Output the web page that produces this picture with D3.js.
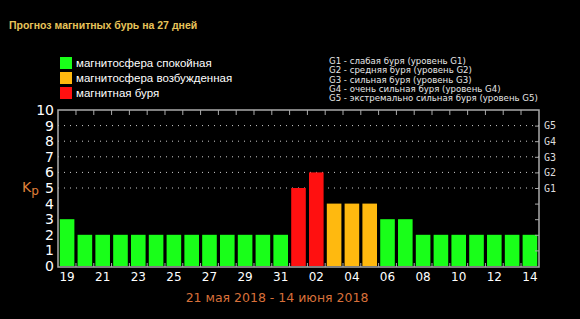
<!DOCTYPE html>
<html>
<head>
<meta charset="utf-8">
<script src="https://cdn.jsdelivr.net/npm/d3@7"></script>
<style>
  body { margin: 0; background: #000; }
  svg { display: block; }
</style>
</head>
<body>
<svg id="chart" width="580" height="319"></svg>
<script>
// Days of the forecast (19 May .. 14 June)
const days = ['19','20','21','22','23','24','25','26','27','28','29','30','31',
              '01','02','03','04','05','06','07','08','09','10','11','12','13','14'];
// Kp forecast per day
const kp = [3,2,2,2,2,2,2,2,2,2,2,2,2, 5,6,4,4,4,3,3,2,2,2,2,2,2,2];
// status per day: q = quiet, a = active, s = storm
const status = ['q','q','q','q','q','q','q','q','q','q','q','q','q',
                's','s','a','a','a','q','q','q','q','q','q','q','q','q'];
const yTicks = [0,1,2,3,4,5,6,7,8,9,10];
const gLevels = ['G1','G2','G3','G4','G5'];
const legendItems = [
  {key: 'q', label: 'магнитосфера спокойная'},
  {key: 'a', label: 'магнитосфера возбужденная'},
  {key: 's', label: 'магнитная буря'}
];
const gLegend = [
  'G1 - слабая буря (уровень G1)',
  'G2 - средняя буря (уровень G2)',
  'G3 - сильная буря (уровень G3)',
  'G4 - очень сильная буря (уровень G4)',
  'G5 - экстремально сильная буря (уровень G5)'
];

const colors = {q: '#19ff19', a: '#ffb90f', s: '#ff1010'};
const frameColor = '#aaaaaa';

const svg = d3.select('#chart');

// plot area
const plotLeft = 58, plotRight = 539, plotTop = 110, plotBottom = 266;

const x = d3.scaleBand().domain(days).range([plotLeft, plotRight]).paddingInner(0.18).paddingOuter(0.1);
const y = d3.scaleLinear().domain([0, 10]).range([plotBottom, plotTop]);

// Title
svg.append('text')
  .attr('x', 9).attr('y', 29)
  .attr('fill', '#e8c45a')
  .style('font-family', 'Liberation Sans, Arial, sans-serif')
  .style('font-weight', 'bold')
  .style('font-size', '10.5px')
  .text('Прогноз магнитных бурь на 27 дней');

// Color legend
const leg = svg.append('g');
legendItems.forEach((d, i) => {
  leg.append('rect')
    .attr('x', 60).attr('y', 57 + i * 15)
    .attr('width', 12).attr('height', 12)
    .attr('fill', colors[d.key]);
  leg.append('text')
    .attr('x', 76).attr('y', 67 + i * 15)
    .attr('fill', '#fff')
    .style('font-family', 'Liberation Sans, Arial, sans-serif')
    .style('font-size', '11.5px')
    .text(d.label);
});

// G legend
gLegend.forEach((t, i) => {
  svg.append('text')
    .attr('x', 329).attr('y', 64 + i * 9.3)
    .attr('fill', '#e6e6e6')
    .style('font-family', 'DejaVu Sans, sans-serif')
    .style('font-size', '8.6px')
    .text(t);
});

// dotted grid at storm levels
svg.append('g').selectAll('line')
  .data([5,6,7,8,9])
  .join('line')
  .attr('x1', plotLeft).attr('x2', plotRight)
  .attr('y1', d => y(d)).attr('y2', d => y(d))
  .attr('stroke', '#cccccc')
  .attr('stroke-width', 1)
  .attr('stroke-dasharray', '1,5');

// bars
svg.append('g').selectAll('rect')
  .data(days)
  .join('rect')
  .attr('x', d => x(d))
  .attr('width', x.bandwidth())
  .attr('y', (d, i) => y(kp[i]))
  .attr('height', (d, i) => y(0) - y(kp[i]))
  .attr('fill', (d, i) => colors[status[i]]);

// frame
svg.append('rect')
  .attr('x', plotLeft).attr('y', plotTop)
  .attr('width', plotRight - plotLeft).attr('height', plotBottom + 1 - plotTop)
  .attr('fill', 'none')
  .attr('stroke', frameColor)
  .attr('stroke-width', 1.5);

// ticks at day boundaries (top and bottom)
const step = x.step();
const bounds = days.slice(1).map(d => x(d) - (step - x.bandwidth()) / 2);
svg.append('g').selectAll('line')
  .data(bounds)
  .join('line')
  .attr('x1', d => d).attr('x2', d => d)
  .attr('y1', plotTop).attr('y2', plotTop + 5)
  .attr('stroke', frameColor);
svg.append('g').selectAll('line')
  .data(bounds)
  .join('line')
  .attr('x1', d => d).attr('x2', d => d)
  .attr('y1', plotBottom + 1).attr('y2', plotBottom - 3)
  .attr('stroke', frameColor);

// left axis labels
const yAxis = d3.axisLeft(y).tickValues(yTicks).tickSize(0).tickPadding(4);
const ya = svg.append('g').attr('transform', `translate(${plotLeft},0)`).call(yAxis);
ya.select('.domain').remove();
ya.selectAll('text')
  .attr('fill', '#fff')
  .style('font-family', 'DejaVu Sans, sans-serif')
  .style('font-size', '14px');

// right ticks and G labels
const yr = d3.axisRight(y).tickValues([1,2,3,4,5,6,7,8,9]).tickSize(-4).tickPadding(5)
  .tickFormat(d => d >= 5 ? gLevels[d - 5] : '');
const ra = svg.append('g').attr('transform', `translate(${plotRight},0)`).call(yr);
ra.select('.domain').remove();
ra.selectAll('line').attr('stroke', frameColor);
ra.selectAll('text')
  .attr('fill', '#ddd')
  .style('font-family', 'DejaVu Sans Mono, monospace')
  .style('font-size', '10px');

// bottom labels
const xAxis = d3.axisBottom(x).tickValues(days.filter((d, i) => i % 2 === 0)).tickSize(0).tickPadding(5);
const xa = svg.append('g').attr('transform', `translate(0,${plotBottom + 1})`).call(xAxis);
xa.select('.domain').remove();
xa.selectAll('text')
  .attr('fill', '#fff')
  .style('font-family', 'DejaVu Sans, sans-serif')
  .style('font-size', '12px');

// Kp label
const kpLabel = svg.append('text')
  .attr('x', 22).attr('y', 192)
  .attr('fill', '#e0803a')
  .style('font-family', 'DejaVu Sans, sans-serif')
  .style('font-size', '14px');
kpLabel.append('tspan').text('K');
kpLabel.append('tspan').attr('dy', 3).style('font-size', '12px').text('p');

// date range
svg.append('text')
  .attr('x', 277).attr('y', 302)
  .attr('text-anchor', 'middle')
  .attr('fill', '#d8703a')
  .style('font-family', 'DejaVu Sans, sans-serif')
  .style('font-size', '12.5px')
  .text('21 мая 2018 - 14 июня 2018');
</script>
</body>
</html>
